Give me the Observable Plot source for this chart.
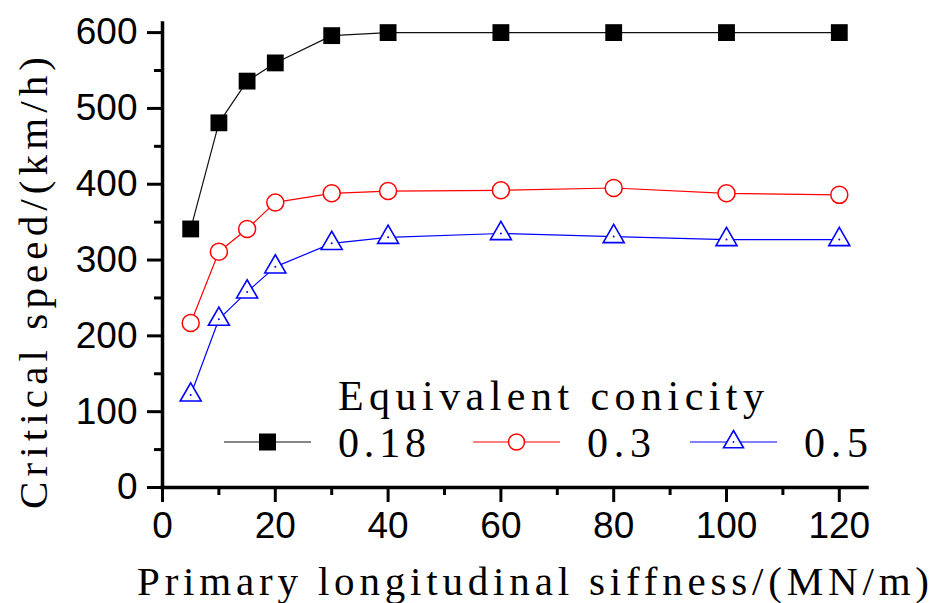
<!DOCTYPE html>
<html>
<head>
<meta charset="utf-8">
<script src="https://cdn.jsdelivr.net/npm/d3@7"></script>
<script src="https://cdn.jsdelivr.net/npm/@observablehq/plot@0.6"></script>
<style>
  html, body { margin: 0; padding: 0; background: #fff; }
  svg { display: block; }
</style>
</head>
<body>
<div id="chart"></div>
<script>
// Data
const stiffness = [5, 10, 15, 20, 30, 40, 60, 80, 100, 120];
const conicity018 = [341, 481, 536, 560, 596, 600, 600, 600, 600, 600];
const conicity03  = [217, 311, 341, 376, 388, 391, 392, 395, 388, 386];
const conicity05  = [122, 222, 258, 291, 322, 330, 335, 331, 327, 327];
const seriesNames = ["0.18", "0.3", "0.5"];
const xTicks = [0, 20, 40, 60, 80, 100, 120];
const xMinorTicks = [10, 30, 50, 70, 90, 110];
const yTicks = [0, 100, 200, 300, 400, 500, 600];
const yMinorTicks = [50, 150, 250, 350, 450, 550];
const xLabel = "Primary longitudinal siffness/(MN/m)";
const yLabel = "Critical speed/(km/h)";
const legendTitle = "Equivalent conicity";

const rows = (vals, name) => stiffness.map((x, i) => ({x, y: vals[i], series: name}));
const s018 = rows(conicity018, seriesNames[0]);
const s03 = rows(conicity03, seriesNames[1]);
const s05 = rows(conicity05, seriesNames[2]);

const tickFont = "Liberation Sans, Arial, sans-serif";
const serifFont = "Liberation Serif, Times New Roman, serif";

const chart = Plot.plot({
  width: 933,
  height: 603,
  marginLeft: 162,
  marginRight: 66,
  marginTop: 23,
  marginBottom: 116,
  style: {fontFamily: tickFont, background: "#fff", color: "#000"},
  x: {domain: [0, 125], label: null},
  y: {domain: [0, 612], label: null},
  marks: [
    Plot.axisX({ticks: xMinorTicks, tickSize: 8, tickFormat: () => "", strokeWidth: 3, label: null}),
    Plot.axisY({ticks: yMinorTicks, tickSize: 8, tickFormat: () => "", strokeWidth: 3, label: null}),
    Plot.axisX({ticks: xTicks, tickSize: 15, tickPadding: 9, strokeWidth: 3, fontSize: 37, fontFamily: tickFont, fill: "#000", label: null}),
    Plot.axisY({ticks: yTicks, tickSize: 15, tickPadding: 10, strokeWidth: 3, fontSize: 37, fontFamily: tickFont, fill: "#000", label: null}),
    Plot.ruleX([0], {stroke: "#000", strokeWidth: 3.5, strokeLinecap: "square"}),
    Plot.ruleY([0], {stroke: "#000", strokeWidth: 3.5, strokeLinecap: "square"}),
    Plot.line(s018, {x: "x", y: "y", stroke: "#111", strokeWidth: 1.2}),
    Plot.line(s03, {x: "x", y: "y", stroke: "#ff0000", strokeWidth: 1.2}),
    Plot.line(s05, {x: "x", y: "y", stroke: "#0000ff", strokeWidth: 1.2}),
    Plot.dot(s018, {x: "x", y: "y", symbol: "square", r: 9.5, fill: "#000", stroke: "none"}),
    Plot.dot(s03, {x: "x", y: "y", symbol: "circle", r: 8.5, fill: "#fff", stroke: "#ff0000", strokeWidth: 1.5}),
    Plot.dot(s05, {x: "x", y: "y", symbol: "triangle", r: 7.8, fill: "#fff", stroke: "#0000ff", strokeWidth: 1.6}),
    Plot.dot(s05, {x: "x", y: "y", r: 1, fill: "#0000ff", stroke: "none"})
  ]
});

document.getElementById("chart").appendChild(chart);

// Axis titles and legend (layout in pixels)
const svg = d3.select(chart);

function label(text, transform, anchor, size, length) {
  return svg.append("text")
    .attr("transform", transform)
    .attr("text-anchor", anchor)
    .attr("font-family", serifFont)
    .attr("font-size", size)
    .attr("fill", "#000")
    .attr("textLength", length)
    .attr("lengthAdjust", "spacing")
    .text(text);
}

label(yLabel, "translate(47,283) rotate(-90)", "middle", 41, 452);
label(xLabel, "translate(533,595)", "middle", 41, 792);
label(legendTitle, "translate(338,410)", "start", 42, 426);

const legendY = 442;
const items = [
  {name: seriesNames[0], x0: 224, color: "#111", sym: "square", len: 88},
  {name: seriesNames[1], x0: 473, color: "#ff0000", sym: "circle", len: 64},
  {name: seriesNames[2], x0: 690, color: "#0000ff", sym: "triangle", len: 64}
];
items.forEach(it => {
  const g = svg.append("g");
  g.append("line")
    .attr("x1", it.x0).attr("x2", it.x0 + 87)
    .attr("y1", legendY).attr("y2", legendY)
    .attr("stroke", it.color).attr("stroke-width", 1.2);
  const cx = it.x0 + 43.5;
  if (it.sym === "square") {
    g.append("rect").attr("x", cx - 8.5).attr("y", legendY - 8.5)
      .attr("width", 17).attr("height", 17).attr("fill", "#000");
  } else if (it.sym === "circle") {
    g.append("circle").attr("cx", cx).attr("cy", legendY).attr("r", 8)
      .attr("fill", "#fff").attr("stroke", it.color).attr("stroke-width", 1.5);
  } else {
    g.append("path")
      .attr("transform", `translate(${cx},${legendY})`)
      .attr("d", d3.symbol(d3.symbolTriangle, Math.PI * 7.4 * 7.4)())
      .attr("fill", "#fff").attr("stroke", it.color).attr("stroke-width", 1.6);
    g.append("circle").attr("cx", cx).attr("cy", legendY).attr("r", 0.9).attr("fill", it.color);
  }
  label(it.name, `translate(${it.x0 + 114},${legendY + 15})`, "start", 42, it.len);
});
</script>
</body>
</html>
